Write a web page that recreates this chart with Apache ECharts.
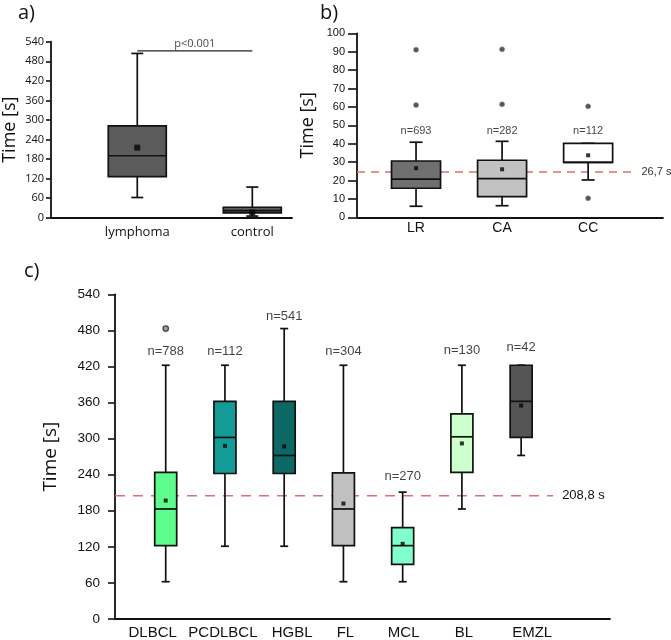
<!DOCTYPE html>
<html>
<head>
<meta charset="utf-8">
<script src="https://cdn.jsdelivr.net/npm/echarts@6/dist/echarts.min.js"></script>
<style>html,body{margin:0;padding:0;background:#fff}#c{width:671px;height:640px}</style>
</head>
<body>
<div id="c"></div>
<script>
// ---- Panel a data ----
const aCats = ['lymphoma', 'control'];
const aBox = [ // [low, q1, median, q3, high]
  [62, 126, 190, 282, 504],
  [5, 15, 22, 32, 94]
];
const aMean = [215, 16];
const aSig = [[1, 512], [2, 512]];
const aSigText = 'p<0.001';

// ---- Panel b data ----
const bCats = ['LR', 'CA', 'CC'];
const bBox = [
  [6, 15.8, 20.8, 30.6, 40.8],
  [6.3, 11.2, 21, 31, 41.3],
  [20.3, 29.9, 29.9, 40.2, 40.2]
];
const bMean = [26.7, 26.1, 33.7];
const bOutliers = [[1, 61], [1, 91], [2, 61.4], [2, 91.3], [3, 60.3], [3, 10.3]];
const bN = ['n=693', 'n=282', 'n=112'];
const bNy = [47, 47, 47];
const bRef = 24.6;
const bRefText = '26,7 s';

// ---- Panel c data ----
const cCats = ['DLBCL', 'PCDLBCL', 'HGBL', 'FL', 'MCL', 'BL', 'EMZL'];
const cBox = [
  [62, 122, 183, 244, 422],
  [121, 242, 302, 362, 422],
  [121, 242, 272, 362, 483],
  [62, 122, 183, 243, 422],
  [62, 91, 122, 152, 211],
  [183, 244, 303, 341, 422],
  [272, 302, 362, 422, 422]
];
const cMean = [197, 288, 287, 192, 125, 292, 355];
const cOutliers = [[1, 483]];
const cN = ['n=788', 'n=112', 'n=541', 'n=304', 'n=270', 'n=130', 'n=42'];
const cNy = [445, 445, 504, 445, 237, 446, 452];
const cRef = 205;
const cRefText = '208,8 s';

// ---- styles ----
const aColors = ['#5c5c5c', '#5c5c5c'];
const bColors = ['#707070', '#c2c2c2', '#ffffff'];
const cColors = ['#5efc8d', '#149b97', '#0c6865', '#c0c0c0', '#80ffcc', '#ccffcc', '#555555'];
const cLabelShift = [-13, -2, 8, 2, 1, 2, 11]; // px shift of category labels (style)
const EDGE = '#111';
const TEXT = '#111';
const REDLINE = '#d9726e';

function boxRenderer(colors, boxW, capW, lw) {
  return function (params, api) {
    const x = api.value(0);
    const lo = api.coord([x, api.value(1)]);
    const q1 = api.coord([x, api.value(2)]);
    const md = api.coord([x, api.value(3)]);
    const q3 = api.coord([x, api.value(4)]);
    const hi = api.coord([x, api.value(5)]);
    const cx = lo[0];
    const st = { stroke: EDGE, lineWidth: lw };
    return {
      type: 'group',
      children: [
        { type: 'line', shape: { x1: cx, y1: lo[1], x2: cx, y2: q1[1] }, style: st },
        { type: 'line', shape: { x1: cx, y1: q3[1], x2: cx, y2: hi[1] }, style: st },
        { type: 'line', shape: { x1: cx - capW / 2, y1: lo[1], x2: cx + capW / 2, y2: lo[1] }, style: st },
        { type: 'line', shape: { x1: cx - capW / 2, y1: hi[1], x2: cx + capW / 2, y2: hi[1] }, style: st },
        { type: 'rect', shape: { x: cx - boxW / 2, y: q3[1], width: boxW, height: q1[1] - q3[1] },
          style: { fill: colors[params.dataIndex], stroke: EDGE, lineWidth: lw } },
        { type: 'line', shape: { x1: cx - boxW / 2, y1: md[1], x2: cx + boxW / 2, y2: md[1] }, style: st }
      ]
    };
  };
}

function boxData(box) { return box.map((b, i) => [i + 1].concat(b)); }
function meanData(m) { return m.map((v, i) => [i + 1, v]); }

const axisLineStyle = { color: EDGE, width: 1.8 };

function yAxisDef(idx, max, interval, fontSize, fontFamily, nameSize, nameGap, nameFont, tickLen, margin) {
  return {
    type: 'value', gridIndex: idx, min: 0, max: max, interval: interval,
    name: 'Time [s]', nameLocation: 'middle', nameGap: nameGap, nameRotate: 90,
    nameTextStyle: { fontSize: nameSize, color: TEXT, fontFamily: nameFont },
    axisLine: { show: true, lineStyle: axisLineStyle },
    axisTick: { show: true, length: tickLen, lineStyle: { color: EDGE, width: 1.6 } },
    axisLabel: { fontSize: fontSize, color: TEXT, fontFamily: fontFamily, margin: margin },
    splitLine: { show: false }
  };
}
function xAxisDef(idx, min, max, cats, fontSize, fontFamily, margin, shifts) {
  const rich = {};
  cats.forEach((c, i) => {
    const s = shifts ? shifts[i] : 0;
    rich['r' + i] = {
      fontSize: fontSize, fontFamily: fontFamily, color: TEXT,
      padding: s >= 0 ? [0, 0, 0, 2 * s] : [0, -2 * s, 0, 0]
    };
  });
  return {
    type: 'value', gridIndex: idx, min: min, max: max,
    axisLine: { show: true, lineStyle: axisLineStyle },
    axisTick: { show: false },
    splitLine: { show: false },
    axisLabel: {
      customValues: cats.map((c, i) => i + 1),
      formatter: v => {
        const i = Math.round(v) - 1;
        return cats[i] ? '{r' + i + '|' + cats[i] + '}' : '';
      },
      rich: rich,
      fontSize: fontSize, color: TEXT, fontFamily: fontFamily, margin: margin
    }
  };
}

const option = {
  animation: false,
  backgroundColor: '#fff',
  grid: [
    { left: 49, right: 379, top: 41.7, bottom: 422.3 },
    { left: 357, right: 8, top: 33.3, bottom: 422.7 },
    { left: 115, right: 61, top: 294.3, bottom: 20.7 }
  ],
  xAxis: [
    xAxisDef(0, 0.25, 2.345, aCats, 13, 'Open Sans', 8),
    xAxisDef(1, 0.314, 3.87, bCats, 14, 'Liberation Sans', 4),
    xAxisDef(2, 0.144, 8.5, cCats, 15, 'Liberation Sans', 6, cLabelShift)
  ],
  yAxis: [
    yAxisDef(0, 540, 60, 11, 'Open Sans', 18, 32, 'Open Sans', 5, 7),
    yAxisDef(1, 100, 10, 11, 'Liberation Sans', 18, 40, 'Open Sans', 9, 12),
    yAxisDef(2, 540, 60, 13.5, 'Liberation Sans', 19, 55, 'Open Sans', 7, 15)
  ],
  graphic: [
    { type: 'text', left: 18, top: 3, style: { text: 'a)', fontSize: 20, fontFamily: 'Open Sans', fill: TEXT } },
    { type: 'text', left: 320, top: 3, style: { text: 'b)', fontSize: 20, fontFamily: 'Open Sans', fill: TEXT } },
    { type: 'text', left: 24, top: 261, style: { text: 'c)', fontSize: 20, fontFamily: 'Open Sans', fill: TEXT } }
  ],
  series: [
    // Panel a
    { type: 'custom', xAxisIndex: 0, yAxisIndex: 0, renderItem: boxRenderer(aColors, 58, 12, 1.7),
      encode: { x: 0, y: [1, 2, 3, 4, 5] }, data: boxData(aBox), z: 2 },
    { type: 'scatter', xAxisIndex: 0, yAxisIndex: 0, symbol: 'rect', symbolSize: 6,
      itemStyle: { color: '#050505' }, data: meanData(aMean), z: 5 },
    { type: 'line', xAxisIndex: 0, yAxisIndex: 0, data: aSig, symbol: 'none',
      lineStyle: { color: '#222', width: 1.2 }, z: 3 },
    { type: 'scatter', xAxisIndex: 0, yAxisIndex: 0, symbolSize: 0,
      data: [[(aSig[0][0] + aSig[1][0]) / 2, aSig[0][1]]],
      label: { show: true, position: 'top', distance: 1, formatter: aSigText, fontSize: 11, fontFamily: 'Open Sans', color: TEXT } },

    // Panel b
    { type: 'line', xAxisIndex: 1, yAxisIndex: 1, data: [[0.314, bRef], [3.55, bRef]], symbol: 'none',
      lineStyle: { color: REDLINE, width: 1.6, type: [8, 6] }, z: 1,
      endLabel: { show: true, formatter: bRefText, fontSize: 11, fontFamily: 'Liberation Sans', color: '#333', distance: 6 } },
    { type: 'custom', xAxisIndex: 1, yAxisIndex: 1, renderItem: boxRenderer(bColors, 49, 13, 1.7),
      encode: { x: 0, y: [1, 2, 3, 4, 5] }, data: boxData(bBox), z: 2 },
    { type: 'scatter', xAxisIndex: 1, yAxisIndex: 1, symbol: 'rect', symbolSize: 4,
      itemStyle: { color: '#050505' }, data: meanData(bMean), z: 5 },
    { type: 'scatter', xAxisIndex: 1, yAxisIndex: 1, symbol: 'circle', symbolSize: 5,
      itemStyle: { color: '#2a2a2a', borderColor: '#8a8a8a', borderWidth: 0.8 }, data: bOutliers, z: 5 },
    { type: 'scatter', xAxisIndex: 1, yAxisIndex: 1, symbolSize: 0,
      data: bN.map((t, i) => ({ value: [i + 1, bNy[i]], name: t })),
      label: { show: true, position: 'inside', formatter: '{b}', fontSize: 11, fontFamily: 'Liberation Sans', color: TEXT } },

    // Panel c
    { type: 'line', xAxisIndex: 2, yAxisIndex: 2, data: [[0.144, cRef], [7.54, cRef]], symbol: 'none',
      lineStyle: { color: REDLINE, width: 1.6, type: [10, 8] }, z: 1,
      endLabel: { show: true, formatter: cRefText, fontSize: 13, fontFamily: 'Liberation Sans', color: TEXT, distance: 9 } },
    { type: 'custom', xAxisIndex: 2, yAxisIndex: 2, renderItem: boxRenderer(cColors, 22, 8, 1.7),
      encode: { x: 0, y: [1, 2, 3, 4, 5] }, data: boxData(cBox), z: 2 },
    { type: 'scatter', xAxisIndex: 2, yAxisIndex: 2, symbol: 'rect', symbolSize: 4,
      itemStyle: { color: '#050505' }, data: meanData(cMean), z: 5 },
    { type: 'scatter', xAxisIndex: 2, yAxisIndex: 2, symbol: 'circle', symbolSize: 5.5,
      itemStyle: { color: '#7d8f86', borderColor: '#1f2a25', borderWidth: 1.3 }, data: cOutliers, z: 5 },
    { type: 'scatter', xAxisIndex: 2, yAxisIndex: 2, symbolSize: 0,
      data: cN.map((t, i) => ({ value: [i + 1, cNy[i]], name: t })),
      label: { show: true, position: 'inside', formatter: '{b}', fontSize: 13, fontFamily: 'Liberation Sans', color: TEXT } }
  ]
};

const chart = echarts.init(document.getElementById('c'), null, { renderer: 'canvas' });
chart.setOption(option);
</script>
</body>
</html>
